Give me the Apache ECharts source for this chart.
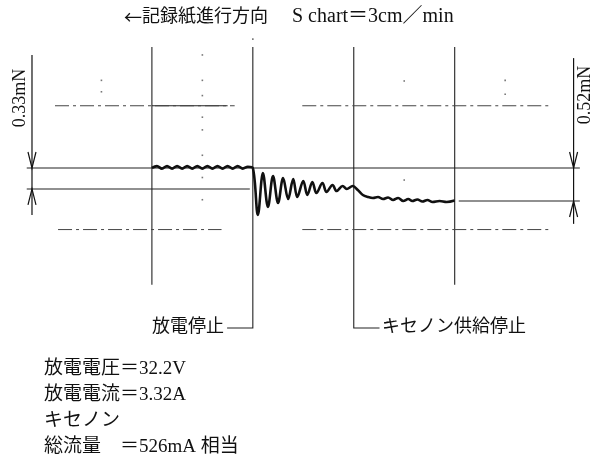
<!DOCTYPE html>
<html>
<head>
<meta charset="utf-8">
<script src="https://cdn.jsdelivr.net/npm/echarts@6/dist/echarts.min.js"></script>
<style>
html, body { margin: 0; padding: 0; background: #fff; }
#chart { width: 596px; height: 455px; }
</style>
</head>
<body>
<div id="chart"></div>
<script>
// Thrust-stand strip-chart record: time in chart divisions, thrust in mN.
const traceTime = [
  0.00, 0.05, 0.10, 0.15, 0.20, 0.25, 0.30, 0.35, 0.40, 0.45,
  0.50, 0.55, 0.60, 0.65, 0.70, 0.75, 0.80, 0.85, 0.90, 0.95, 1.00,
  1.05, 1.10, 1.15, 1.20, 1.25, 1.30, 1.35, 1.40, 1.44, 1.50,
  1.54, 1.59, 1.63, 1.69, 1.73, 1.79, 1.83, 1.89, 1.93, 1.99,
  2.04, 2.09, 2.14, 2.19, 2.24, 2.29, 2.34, 2.39, 2.44, 2.49,
  2.54, 2.58, 2.63, 2.68, 2.73, 2.78, 2.85, 2.92, 3.00
];
const traceThrust = [
  0.52, 0.55, 0.51, 0.55, 0.51, 0.55, 0.51, 0.55, 0.51, 0.55,
  0.51, 0.55, 0.51, 0.55, 0.51, 0.55, 0.51, 0.55, 0.51, 0.54, 0.52,
  -0.22, 0.44, -0.094, 0.394, -0.031, 0.362, 0.031, 0.346, 0.063, 0.315,
  0.094, 0.299, 0.126, 0.283, 0.142, 0.252, 0.157, 0.236, 0.189, 0.236,
  0.173, 0.094, 0.063, 0.047, 0.063, 0.031, 0.055, 0.016, 0.047, 0.0,
  0.031, 0.0, 0.024, -0.008, 0.016, -0.016, 0.0, -0.016, 0.008
];

// Thrust levels (mN): discharge on, xenon flow only, zero
const levelOn = 0.52;
const levelCold = 0.19;
const levelZero = 0;

// Chart-paper division lines and events
const divisionLines = [0, 1, 2, 3];
const dischargeOffTime = 1;
const xenonOffTime = 2;
const paperGridLevels = [1.5, -0.45];

// Half-division marks printed on the paper
const paperDotTime = [0.5, 0.5, 0.5, 0.5, 0.5, 0.5, 0.5, 0.5, -0.5, -0.5, 2.5, 2.5, 3.5, 3.5, 1.0];
const paperDotValue = [2.30, 1.90, 1.66, 1.32, 1.12, 0.72, 0.37, 0.02, 1.90, 1.72, 1.89, 0.33, 1.90, 1.68, 2.55];

// Texts
const titleArrow = '←';
const titleJa = '記録紙進行方向';
const titleScale = 'S chart＝3cm／min';
const dischargeOffLabel = '放電停止';
const xenonOffLabel = 'キセノン供給停止';
const conditionLines = [
  '放電電圧＝32.2V',
  '放電電流＝3.32A',
  'キセノン',
  '総流量　＝526mA 相当'
];

const FONT = '"Liberation Serif", "Noto Sans CJK JP", serif';
const INK = '#111';

const chart = echarts.init(document.getElementById('chart'), null, { renderer: 'canvas' });

const traceData = traceTime.map((t, i) => [t, traceThrust[i]]);

// straight reference segments on the paper
const solidSegments = [
  { coords: [[-1.24, levelOn], [4.24, levelOn]] },
  { coords: [[-1.24, levelCold], [0.97, levelCold]] },
  { coords: [[3.04, levelZero], [4.24, levelZero]] },
  { coords: [[0.0, paperGridLevels[0]], [0.75, paperGridLevels[0]]] }
];
divisionLines.forEach(t => {
  if (t === dischargeOffTime) {
    solidSegments.push({ coords: [[t, 2.425], [t, -2.0], [0.745, -2.0]] });
  } else if (t === xenonOffTime) {
    solidSegments.push({ coords: [[t, 2.425], [t, -2.0], [2.255, -2.0]] });
  } else {
    solidSegments.push({ coords: [[t, 2.425], [t, -1.32]] });
  }
});

const dashSegments = [
  { coords: [[-0.96, paperGridLevels[0]], [0.82, paperGridLevels[0]]] },
  { coords: [[1.49, paperGridLevels[0]], [3.96, paperGridLevels[0]]] },
  { coords: [[-0.93, paperGridLevels[1]], [0.69, paperGridLevels[1]]] },
  { coords: [[1.49, paperGridLevels[1]], [3.96, paperGridLevels[1]]] }
];

// dimension markers: [time, upper level, lower level, line top, line bottom, label side]
const dimensions = [
  [-1.188, levelOn, levelCold, 2.30, -0.22, -1],
  [4.178, levelOn, levelZero, 2.25, -0.36, 1]
];

function renderDimension(params, api) {
  const x = api.value(0);
  const top = api.coord([x, api.value(1)]);
  const bot = api.coord([x, api.value(2)]);
  const lt = api.coord([x, api.value(3)]);
  const lb = api.coord([x, api.value(4)]);
  const side = api.value(5);
  const aw = 4, al = 16;
  const style = { stroke: INK, lineWidth: 1.2, fill: null };
  const label = (api.value(1) - api.value(2)).toFixed(2) + 'mN';
  const labelCenterY = side < 0 ? 98 : 95;
  return {
    type: 'group',
    children: [
      { type: 'line', shape: { x1: lt[0], y1: lt[1], x2: lb[0], y2: lb[1] }, style },
      { type: 'polyline', shape: { points: [[top[0] - aw, top[1] - al], [top[0], top[1]], [top[0] + aw, top[1] - al]] }, style },
      { type: 'polyline', shape: { points: [[bot[0] - aw, bot[1] + al], [bot[0], bot[1]], [bot[0] + aw, bot[1] + al]] }, style },
      {
        type: 'text',
        x: top[0] + side * 12,
        y: labelCenterY,
        rotation: Math.PI / 2,
        style: {
          text: label,
          font: '18px ' + FONT,
          fill: INK,
          align: 'center',
          verticalAlign: 'middle'
        }
      }
    ]
  };
}

const graphics = [
  {
    type: 'text', left: 124, top: 7,
    style: {
      text: '{a|' + titleArrow + '}{j|' + titleJa + '}{g|}{s|' + titleScale + '}',
      font: '18px ' + FONT, fill: INK,
      rich: {
        a: { fontFamily: '"Noto Sans CJK JP"', fontSize: 18, fill: INK },
        j: { fontFamily: FONT, fontSize: 18, fill: INK },
        g: { width: 24 },
        s: { fontFamily: FONT, fontSize: 20, fill: INK }
      }
    }
  },
  {
    type: 'text', right: 596 - 224, top: 318,
    style: { text: dischargeOffLabel, font: '18px ' + FONT, fill: INK }
  },
  {
    type: 'text', left: 382, top: 318,
    style: { text: xenonOffLabel, font: '18px ' + FONT, fill: INK }
  }
];
conditionLines.forEach((s, i) => {
  graphics.push({
    type: 'text', left: 44, top: 360 + i * 26,
    style: { text: s, font: '19px ' + FONT, fill: INK }
  });
});

chart.setOption({
  animation: false,
  backgroundColor: '#fff',
  grid: { left: 0.5, top: 10.5, width: 595.9, height: 444.5, containLabel: false },
  xAxis: { type: 'value', min: -1.5, max: 4.4, show: false },
  yAxis: { type: 'value', min: -4, max: 3, show: false },
  graphic: graphics,
  series: [
    {
      type: 'lines', coordinateSystem: 'cartesian2d', polyline: true,
      data: solidSegments, silent: true,
      lineStyle: { color: '#222', width: 1.1, opacity: 1 }
    },
    {
      type: 'lines', coordinateSystem: 'cartesian2d', polyline: true,
      data: dashSegments, silent: true,
      lineStyle: { color: '#444', width: 1, type: [14, 4, 3, 4], opacity: 1 }
    },
    {
      type: 'scatter', silent: true, symbol: 'rect', symbolSize: 1.6,
      data: paperDotTime.map((t, i) => [t, paperDotValue[i]]),
      itemStyle: { color: '#555' }
    },
    {
      type: 'custom', silent: true, renderItem: renderDimension,
      data: dimensions
    },
    {
      type: 'line', data: traceData, smooth: 0.35, symbol: 'none', silent: true,
      lineStyle: { color: INK, width: 2.6 }
    }
  ]
});
</script>
</body>
</html>
